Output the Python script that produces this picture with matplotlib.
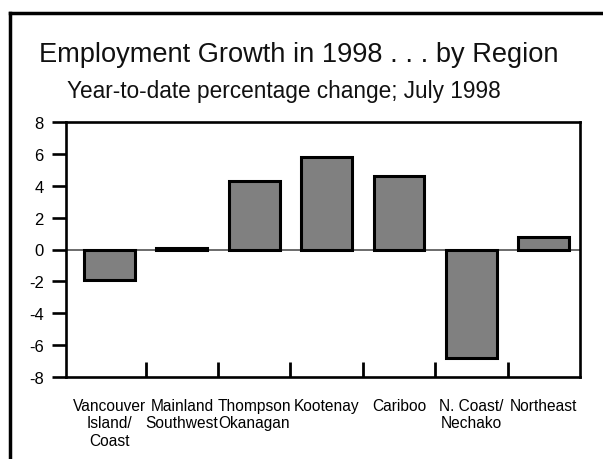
import matplotlib
matplotlib.use("Agg")
import matplotlib.pyplot as plt
from matplotlib.lines import Line2D

regions = ["Vancouver\nIsland/\nCoast", "Mainland\nSouthwest", "Thompson\nOkanagan",
           "Kootenay", "Cariboo", "N. Coast/\nNechako", "Northeast"]
growth = [-1.9, 0.1, 4.3, 5.8, 4.6, -6.8, 0.8]
yticks = [-8, -6, -4, -2, 0, 2, 4, 6, 8]

W, H = 603, 460
fig = plt.figure(figsize=(W / 100, H / 100), dpi=100)
plt.rcParams['font.family'] = ['Liberation Sans', 'DejaVu Sans']

# plot area in pixel coordinates
left, right, top, bottom = 66, 580, 123, 378
ax = fig.add_axes([left / W, 1 - bottom / H, (right - left) / W, (bottom - top) / H])

x = list(range(len(regions)))
ax.bar(x, growth, width=0.70, color="#808080", edgecolor="black", linewidth=2.2, zorder=3)
ax.axhline(0, color="#444444", linewidth=1.1, zorder=2)

ax.set_ylim(-8, 8)
ax.set_xlim(-0.6, 6.5)
ax.set_yticks(yticks)
ax.set_yticklabels([str(v) for v in yticks], fontsize=12)
ax.tick_params(axis="y", direction="out", length=10, width=1.9, pad=6)

# category separators: short ticks rising from the bottom spine
ax.set_xticks([i + 0.5 for i in range(len(regions) - 1)])
ax.set_xticklabels([])
ax.tick_params(axis="x", direction="in", length=11, width=2)
for i, lab in enumerate(regions):
    ax.text(i, -9.3, lab, ha="center", va="top", fontsize=11.2, linespacing=1.2)

for s in ax.spines.values():
    s.set_linewidth(1.9)

fig.text(39 / W, 1 - 62 / H, "Employment Growth in 1998 . . . by Region",
         fontsize=19.6, va="baseline", ha="left", color="#111111")
fig.text(67 / W, 1 - 98 / H, "Year-to-date percentage change; July 1998",
         fontsize=16.3, va="baseline", ha="left", color="#111111")

# page frame (open at the bottom and right)
fig.add_artist(Line2D([10 / W, 10 / W], [0, 1 - 14 / H], transform=fig.transFigure,
                      color="black", linewidth=2.5))
fig.add_artist(Line2D([10 / W, 1], [1 - 14 / H, 1 - 14 / H], transform=fig.transFigure,
                      color="black", linewidth=2.5))

fig.savefig("out.png", dpi=100)
